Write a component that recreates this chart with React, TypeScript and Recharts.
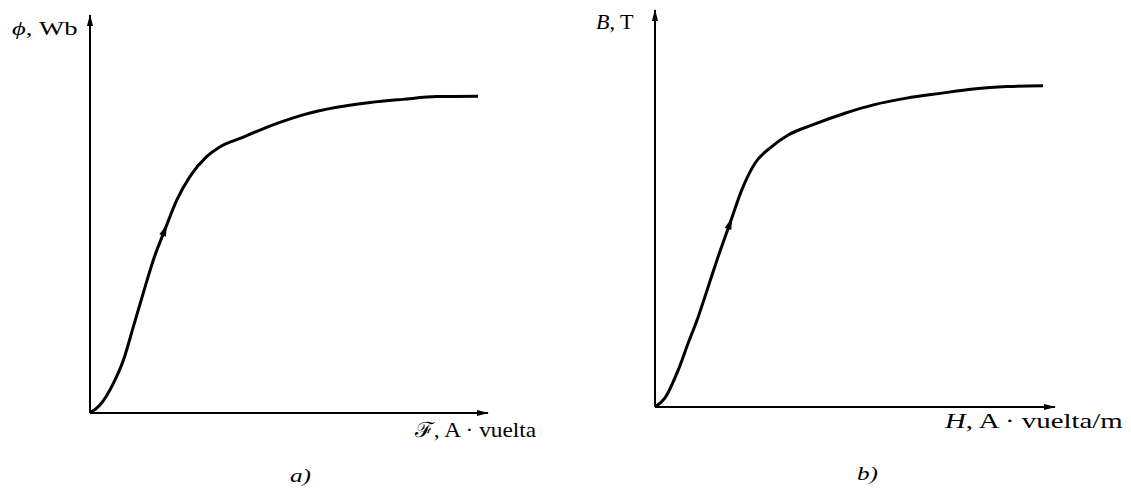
import React from 'react';
import { LineChart, Line, XAxis, YAxis } from 'recharts';

// Magnetization curve a): flux vs. magnetomotive force (relative units)
const mmf = [0, 2.5, 5.9, 8.4, 10.9, 13.4, 15.9, 18.8, 21.8, 25.1, 29.3, 32.7, 37.7, 42.7, 47.7, 53.5, 62.0, 70.4, 78.6, 87.1, 97.5];
const flux = [0, 2.0, 7.5, 13.3, 21.7, 30.2, 38.4, 46.0, 53.5, 59.4, 64.4, 66.9, 69.0, 71.1, 73.0, 74.9, 76.8, 78.0, 78.8, 79.5, 79.6];

// Magnetization curve b): flux density vs. field intensity (relative units)
const fieldH = [0, 2.5, 5.8, 8.3, 10.8, 13.3, 15.8, 18.75, 21.7, 25.0, 29.2, 33.3, 39.2, 47.5, 54.6, 62.9, 71.3, 79.6, 87.9, 97.0];
const fluxDensity = [0, 2.3, 9.3, 16.1, 22.7, 30.3, 37.9, 46.3, 54.7, 61.4, 65.6, 68.5, 71.0, 74.0, 76.1, 77.8, 79.0, 80.1, 80.7, 80.9];

// index of the point carrying the direction arrow on each curve
const arrowAtA = 7;
const arrowAtB = 7;

const curveA = mmf.map((x, i) => ({ x, y: flux[i], arrow: i === arrowAtA }));
const curveB = fieldH.map((x, i) => ({ x, y: fluxDensity[i], arrow: i === arrowAtB }));

const serif = '"Liberation Serif", "Times New Roman", "DejaVu Serif", serif';

const axisLineX = { stroke: '#000', strokeWidth: 2, markerEnd: 'url(#axisArrow)' };
const axisLineY = { stroke: '#000', strokeWidth: 2, markerStart: 'url(#axisArrow)' };

function ArrowDot(props: any) {
  const { cx, cy, index, payload, points } = props;
  if (!payload || !payload.arrow) return <g key={`d-${index}`} />;
  let angle = -68;
  if (points && points[index - 1] && points[index + 1]) {
    const p0 = points[index - 1];
    const p1 = points[index + 1];
    angle = (Math.atan2(p1.y - p0.y, p1.x - p0.x) * 180) / Math.PI;
  }
  return (
    <path
      key={`d-${index}`}
      d="M6,0 L-6,-3.5 L-6,3.5 Z"
      fill="#000"
      transform={`translate(${cx},${cy}) rotate(${angle})`}
    />
  );
}

function Curve({ data, width, height, margin }: any) {
  return (
    <LineChart width={width} height={height} data={data} margin={margin}>
      <XAxis type="number" dataKey="x" domain={[0, 100]} height={2} tick={false} tickLine={false} axisLine={axisLineX} />
      <YAxis type="number" domain={[0, 100]} width={2} tick={false} tickLine={false} axisLine={axisLineY} />
      <Line
        type="monotone"
        dataKey="y"
        stroke="#000"
        strokeWidth={3}
        dot={ArrowDot}
        activeDot={false}
        isAnimationActive={false}
      />
    </LineChart>
  );
}

// the book's lettering is set a little wide, hence the horizontal stretch
const text = (left: number, top: number, size: number, stretch = 1, extra: any = {}) => ({
  position: 'absolute' as const,
  left,
  top,
  fontSize: size,
  lineHeight: 1,
  fontFamily: serif,
  color: '#000',
  whiteSpace: 'nowrap' as const,
  transform: `scaleX(${stretch})`,
  transformOrigin: 'left top',
  ...extra,
});

export default function App() {
  return (
    <div style={{ position: 'absolute', left: 0, top: 0, width: 1131, height: 491, background: '#fff', overflow: 'hidden' }}>
      <svg width={0} height={0} style={{ position: 'absolute' }}>
        <defs>
          <marker
            id="axisArrow"
            viewBox="0 0 12 8"
            refX={11}
            refY={4}
            markerWidth={12}
            markerHeight={8}
            markerUnits="userSpaceOnUse"
            orient="auto-start-reverse"
          >
            <path d="M0,1 L12,4 L0,7 Z" fill="#000" />
          </marker>
        </defs>
      </svg>

      <div style={{ position: 'absolute', left: 0, top: 0 }}>
        <Curve data={curveA} width={600} height={491} margin={{ top: 15, right: 112, bottom: 76, left: 88 }} />
      </div>
      <div style={{ position: 'absolute', left: 560, top: 0 }}>
        <Curve data={curveB} width={571} height={491} margin={{ top: 10, right: 76, bottom: 82, left: 93 }} />
      </div>

      <div style={text(12, 19, 19, 1.4)}>
        <i>ϕ</i>, Wb
      </div>
      <div style={text(596, 11, 22)}>
        <i>B</i>, T
      </div>
      <div style={text(415, 420, 21, 1.11)}>ℱ, A · vuelta</div>
      <div style={text(945, 410, 22, 1.31)}>
        <i>H</i>, A · vuelta/m
      </div>
      <div style={text(290, 467, 18, 1.4, { fontStyle: 'italic' })}>a)</div>
      <div style={text(857, 465, 18, 1.4, { fontStyle: 'italic' })}>b)</div>
    </div>
  );
}
